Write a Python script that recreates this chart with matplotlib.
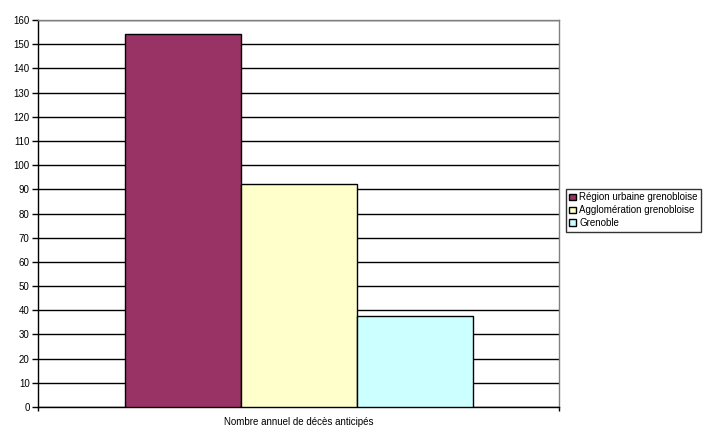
import matplotlib
matplotlib.use("Agg")
import matplotlib.pyplot as plt

plt.rcParams['font.family'] = ['Liberation Sans', 'DejaVu Sans']

category = "Nombre annuel de décès anticipés"
series = ["Région urbaine grenobloise", "Agglomération grenobloise", "Grenoble"]
values = [154.2, 92.4, 37.6]
colors = ["#993366", "#FFFFCC", "#CCFFFF"]
yticks = list(range(0, 161, 10))

fig = plt.figure(figsize=(7.08, 4.41), dpi=100)
ax = fig.add_axes([38 / 708, 1 - 407 / 441, 521 / 708, 387 / 441])

bar_w = 116 / 521
for i, (name, v, c) in enumerate(zip(series, values, colors)):
    ax.bar(0.5 + (i - 1) * bar_w, v, width=bar_w, color=c, edgecolor="black",
           linewidth=1.0, label=name, zorder=3)

ax.set_xlim(0, 1)
ax.set_ylim(0, 160)
ax.set_yticks(yticks)
ax.yaxis.grid(True, color="black", linewidth=1.0, zorder=0)
ax.tick_params(axis="y", labelsize=7, length=4, width=1, direction="out", pad=2)
ax.set_xticks([0, 1])
ax.set_xticklabels([])
ax.tick_params(axis="x", length=3, width=1, direction="out")
ax.text(0.5, -0.025, category, transform=ax.transAxes, ha="center", va="top", fontsize=7)

for s in ["left", "bottom"]:
    ax.spines[s].set_color("black")
    ax.spines[s].set_linewidth(1.0)
for s in ["top", "right"]:
    ax.spines[s].set_color("#808080")
    ax.spines[s].set_linewidth(1.0)

leg = fig.legend(loc="upper left", bbox_to_anchor=(566 / 708, 1 - 189 / 441),
                 fontsize=7, frameon=True, fancybox=False, handlelength=0.7,
                 handleheight=0.7, handletextpad=0.3, borderpad=0.35,
                 labelspacing=0.3, borderaxespad=0)
leg.get_frame().set_edgecolor("black")
leg.get_frame().set_linewidth(1.0)

fig.savefig("out.png", dpi=100)
